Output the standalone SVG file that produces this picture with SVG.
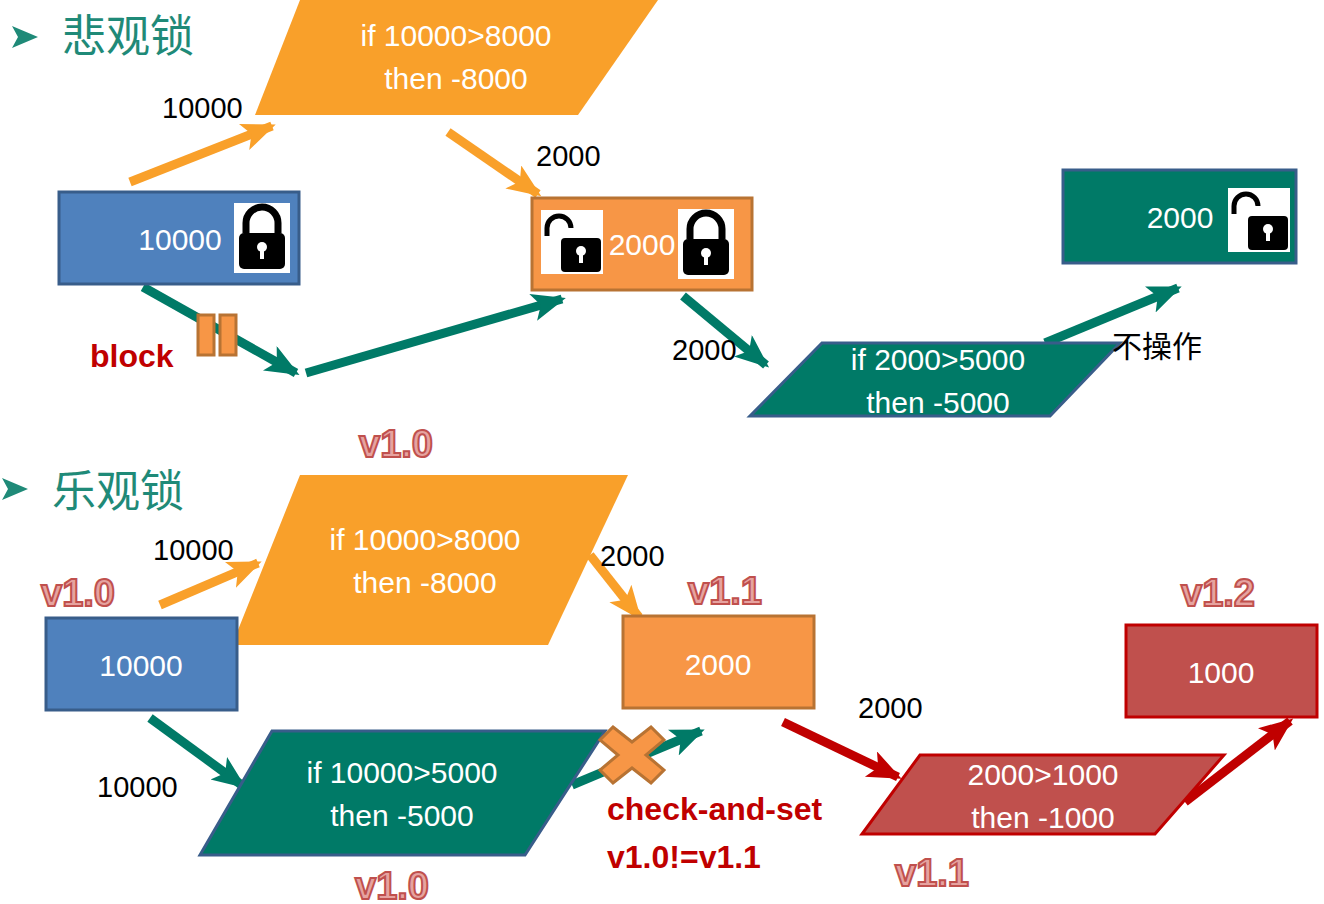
<svg xmlns="http://www.w3.org/2000/svg" width="1324" height="904" viewBox="0 0 1324 904">
<defs>
<style>
.t{font-family:"Liberation Sans","Noto Sans CJK SC",sans-serif;}
.w{fill:#fff;font-size:30px;text-anchor:middle}
.k{fill:#000;font-size:29px}
.h{fill:#1f8a78;font-size:44px;font-family:"Noto Sans CJK SC",sans-serif}
.v{fill:#e6a3a0;stroke:#c0504d;stroke-width:2;font-size:38px;font-weight:bold;text-anchor:middle}
.r{fill:#c00000;font-size:32px;font-weight:bold}
.ao{stroke:#f9a02a;stroke-width:9;fill:none}
.at{stroke:#007a67;stroke-width:9;fill:none}
.ar{stroke:#c00000;stroke-width:9;fill:none}
</style>
<marker id="mo" markerUnits="userSpaceOnUse" markerWidth="40" markerHeight="40" refX="30" refY="14" orient="auto"><path d="M0,0 L34,14 L0,28 L8,14 z" fill="#f9a02a"/></marker>
<marker id="mt" markerUnits="userSpaceOnUse" markerWidth="40" markerHeight="40" refX="30" refY="14" orient="auto"><path d="M0,0 L34,14 L0,28 L8,14 z" fill="#007a67"/></marker>
<marker id="mr" markerUnits="userSpaceOnUse" markerWidth="40" markerHeight="40" refX="30" refY="14" orient="auto"><path d="M0,0 L34,14 L0,28 L8,14 z" fill="#c00000"/></marker>
<g id="lockC"><rect x="0" y="0" width="56" height="70" fill="#fff"/><path d="M12,30 V20 A16,16 0 0 1 44,20 V30" fill="none" stroke="#000" stroke-width="7"/><rect x="5" y="30" width="46" height="36" rx="5" fill="#000"/><circle cx="28" cy="44" r="5" fill="#fff"/><rect x="26" y="44" width="4" height="12" fill="#fff"/></g>
<g id="lockO"><rect x="0" y="0" width="62" height="64" fill="#fff"/><path d="M6,26 V18 A12,12 0 0 1 30,18" fill="none" stroke="#000" stroke-width="5"/><rect x="20" y="28" width="40" height="34" rx="4" fill="#000"/><circle cx="40" cy="41" r="5" fill="#fff"/><rect x="38" y="41" width="4" height="12" fill="#fff"/></g>
</defs>
<rect width="1324" height="904" fill="#fff"/>
<g id="connectors">
<line class="ao" x1="130" y1="182" x2="272" y2="126" marker-end="url(#mo)"/>
<line class="ao" x1="448" y1="132" x2="538" y2="194" marker-end="url(#mo)"/>
<line class="at" x1="143" y1="287" x2="296" y2="373" marker-end="url(#mt)"/>
<line class="at" x1="306" y1="373" x2="562" y2="299" marker-end="url(#mt)"/>
<line class="at" x1="683" y1="296" x2="766" y2="365" marker-end="url(#mt)"/>
<line class="at" x1="1045" y1="343" x2="1178" y2="288" marker-end="url(#mt)"/>
<line class="ao" x1="160" y1="605" x2="258" y2="563" marker-end="url(#mo)"/>
<line class="ao" x1="590" y1="555" x2="639" y2="617" marker-end="url(#mo)"/>
<line class="at" x1="150" y1="718" x2="243" y2="786" marker-end="url(#mt)"/>
<line class="at" x1="572" y1="785" x2="701" y2="731" marker-end="url(#mt)"/>
<line class="ar" x1="783" y1="722" x2="898" y2="777" marker-end="url(#mr)"/>
<line class="ar" x1="1185" y1="802" x2="1290" y2="721" marker-end="url(#mr)"/>
</g>
<g id="title1"><path d="M12,26 L38,37 L12,48 L18,37 z" fill="#1f8a78"/><text class="t h" x="62" y="52">悲观锁</text></g>
<g id="p1"><polygon points="300,0 658,0 578,115 255,115" fill="#f9a02a"/><text class="t w" x="456" y="46">if 10000&gt;8000</text><text class="t w" x="456" y="89">then -8000</text></g>
<text class="t k" x="162" y="118">10000</text>
<g id="b1"><rect x="59" y="192" width="240" height="92" fill="#4f81bd" stroke="#385d8a" stroke-width="3"/><text class="t w" x="180" y="250">10000</text><use href="#lockC" x="234" y="203"/></g>
<text class="t k" x="536" y="166">2000</text>
<g id="b2"><rect x="532" y="198" width="220" height="92" fill="#f79646" stroke="#b87333" stroke-width="3"/><use href="#lockO" x="541" y="210"/><text class="t w" x="642" y="255">2000</text><use href="#lockC" x="678" y="209"/></g>
<g id="pause"><rect x="198" y="315" width="16" height="40" fill="#f79646" stroke="#b87333" stroke-width="3"/><rect x="220" y="315" width="16" height="40" fill="#f79646" stroke="#b87333" stroke-width="3"/></g>
<text class="t r" x="90" y="367">block</text>
<text class="t k" x="672" y="360">2000</text>
<g id="p2"><polygon points="822,343 1120,343 1050,416 750,416" fill="#007a67" stroke="#385d8a" stroke-width="3"/><text class="t w" x="938" y="370">if 2000&gt;5000</text><text class="t w" x="938" y="413">then -5000</text></g>
<text class="t" x="1112" y="357" font-size="30" fill="#000" font-family="Noto Sans CJK SC,sans-serif">不操作</text>
<g id="b3"><rect x="1063" y="170" width="233" height="93" fill="#007a67" stroke="#385d8a" stroke-width="3"/><text class="t w" x="1180" y="228">2000</text><use href="#lockO" x="1228" y="188"/></g>

<text class="t v" x="396" y="457">v1.0</text>
<g id="title2"><path d="M2,478 L28,489 L2,500 L8,489 z" fill="#1f8a78"/><text class="t h" x="52" y="507">乐观锁</text></g>
<g id="p3"><polygon points="300,475 628,475 548,645 232,645" fill="#f9a02a"/><text class="t w" x="425" y="550">if 10000&gt;8000</text><text class="t w" x="425" y="593">then -8000</text></g>
<text class="t k" x="153" y="560">10000</text>
<text class="t v" x="78" y="606">v1.0</text>
<g id="b4"><rect x="46" y="618" width="191" height="92" fill="#4f81bd" stroke="#385d8a" stroke-width="3"/><text class="t w" x="141" y="676">10000</text></g>
<text class="t k" x="600" y="566">2000</text>
<text class="t v" x="725" y="604">v1.1</text>
<g id="b5"><rect x="623" y="616" width="191" height="92" fill="#f79646" stroke="#b87333" stroke-width="3"/><text class="t w" x="718" y="675">2000</text></g>
<text class="t k" x="97" y="797">10000</text>
<g id="p4"><polygon points="272,731 605,731 525,855 200,855" fill="#007a67" stroke="#385d8a" stroke-width="3"/><text class="t w" x="402" y="783">if 10000&gt;5000</text><text class="t w" x="402" y="826">then -5000</text></g>
<text class="t v" x="392" y="899">v1.0</text>
<g id="cross"><path d="M613,727 L632,742 L651,727 L664,740 L646,755 L664,770 L651,783 L632,768 L613,783 L600,770 L618,755 L600,740 z" fill="#f79646" stroke="#b87333" stroke-width="3"/></g>
<text class="t r" x="607" y="820">check-and-set</text>
<text class="t r" x="607" y="868">v1.0!=v1.1</text>
<text class="t k" x="858" y="718">2000</text>
<g id="p5"><polygon points="920,755 1224,755 1155,834 862,834" fill="#c0504d" stroke="#c00000" stroke-width="3"/><text class="t w" x="1043" y="785">2000&gt;1000</text><text class="t w" x="1043" y="828">then -1000</text></g>
<text class="t v" x="932" y="886">v1.1</text>
<text class="t v" x="1218" y="606">v1.2</text>
<g id="b6"><rect x="1126" y="625" width="191" height="92" fill="#c0504d" stroke="#c00000" stroke-width="3"/><text class="t w" x="1221" y="683">1000</text></g>
</svg>
